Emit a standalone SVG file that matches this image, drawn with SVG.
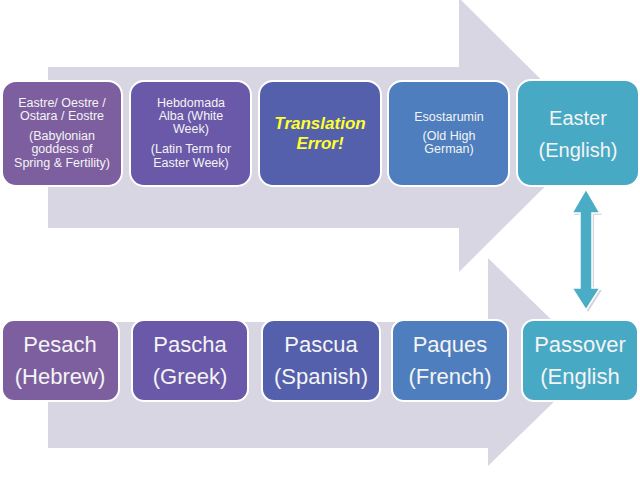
<svg xmlns="http://www.w3.org/2000/svg" width="640" height="480" viewBox="0 0 640 480">
<style>
.bg{fill:#D9D6E4}
.box{stroke:#FFFFFF;stroke-width:2}
.t{font-family:"Liberation Sans",Arial,sans-serif;fill:#F4F4F4;text-anchor:middle}
.s{font-size:12.5px}
.m{font-size:20px}
.l{font-size:22px}
.err{font-family:"Liberation Sans",Arial,sans-serif;font-size:17px;font-weight:bold;font-style:italic;fill:#FFFF2E;text-anchor:middle}
</style>
<rect width="640" height="480" fill="#FFFFFF"/>
<g id="flows">
<path class="bg" d="M48,67 H459 V-2 L597,135 L459,272 V228 H48 Z"/>
<path class="bg" d="M48,322 H488 V258 L595,362 L488,466 V448 H48 Z"/>
</g>
<g id="n1"><rect class="box" x="2" y="81" width="120" height="105" rx="14" fill="#7D5FA0"/>
<text class="t s" x="62" y="107">Eastre/ Oestre /</text>
<text class="t s" x="62" y="120">Ostara / Eostre</text>
<text class="t s" x="62" y="140">(Babylonian</text>
<text class="t s" x="62" y="153">goddess of</text>
<text class="t s" x="62" y="167">Spring &amp; Fertility)</text></g>
<g id="n2"><rect class="box" x="130" y="81" width="121" height="105" rx="14" fill="#6A58A8"/>
<text class="t s" x="191" y="107">Hebdomada</text>
<text class="t s" x="191" y="120">Alba (White</text>
<text class="t s" x="191" y="133">Week)</text>
<text class="t s" x="191" y="153">(Latin Term for</text>
<text class="t s" x="191" y="167">Easter Week)</text></g>
<g id="n3"><rect class="box" x="259" y="81" width="122" height="105" rx="14" fill="#5460AC"/>
<text class="err" x="320" y="129">Translation</text>
<text class="err" x="320" y="149">Error!</text></g>
<g id="n4"><rect class="box" x="388" y="81" width="121" height="105" rx="14" fill="#4E7EBE"/>
<text class="t s" x="449" y="121">Esostarumin</text>
<text class="t s" x="449" y="140">(Old High</text>
<text class="t s" x="449" y="153">German)</text></g>
<g id="n5"><rect class="box" x="517" y="80" width="122" height="106" rx="14" fill="#48A9C4"/>
<text class="t m" x="578" y="125">Easter</text>
<text class="t m" x="578" y="157">(English)</text></g>
<g id="m1"><rect class="box" x="2" y="320" width="117" height="81" rx="12" fill="#7D5FA0"/>
<text class="t l" x="60" y="352">Pesach</text>
<text class="t l" x="60" y="384">(Hebrew)</text></g>
<g id="m2"><rect class="box" x="132" y="320" width="116" height="81" rx="12" fill="#6A58A8"/>
<text class="t l" x="190" y="352">Pascha</text>
<text class="t l" x="190" y="384">(Greek)</text></g>
<g id="m3"><rect class="box" x="262" y="320" width="118" height="81" rx="12" fill="#5460AC"/>
<text class="t l" x="321" y="352">Pascua</text>
<text class="t l" x="321" y="384">(Spanish)</text></g>
<g id="m4"><rect class="box" x="392" y="320" width="116" height="81" rx="12" fill="#4E7EBE"/>
<text class="t l" x="450" y="352">Paques</text>
<text class="t l" x="450" y="384">(French)</text></g>
<g id="m5"><rect class="box" x="522" y="320" width="116" height="81" rx="12" fill="#48A9C4"/>
<text class="t l" x="580" y="352">Passover</text>
<text class="t l" x="580" y="384">(English</text></g>
<g id="connectors">
<path d="M588,191 L602,215 H594 V290 H602 L588,312 L574,290 H582 V215 H574 Z" fill="#B8B8C8" opacity="0.6"/>
<path d="M586,189 L600,213 H592 V288 H600 L586,310 L572,288 H580 V213 H572 Z" fill="#4BACC6" stroke="#FFFFFF" stroke-width="1.5"/>
</g>
</svg>
